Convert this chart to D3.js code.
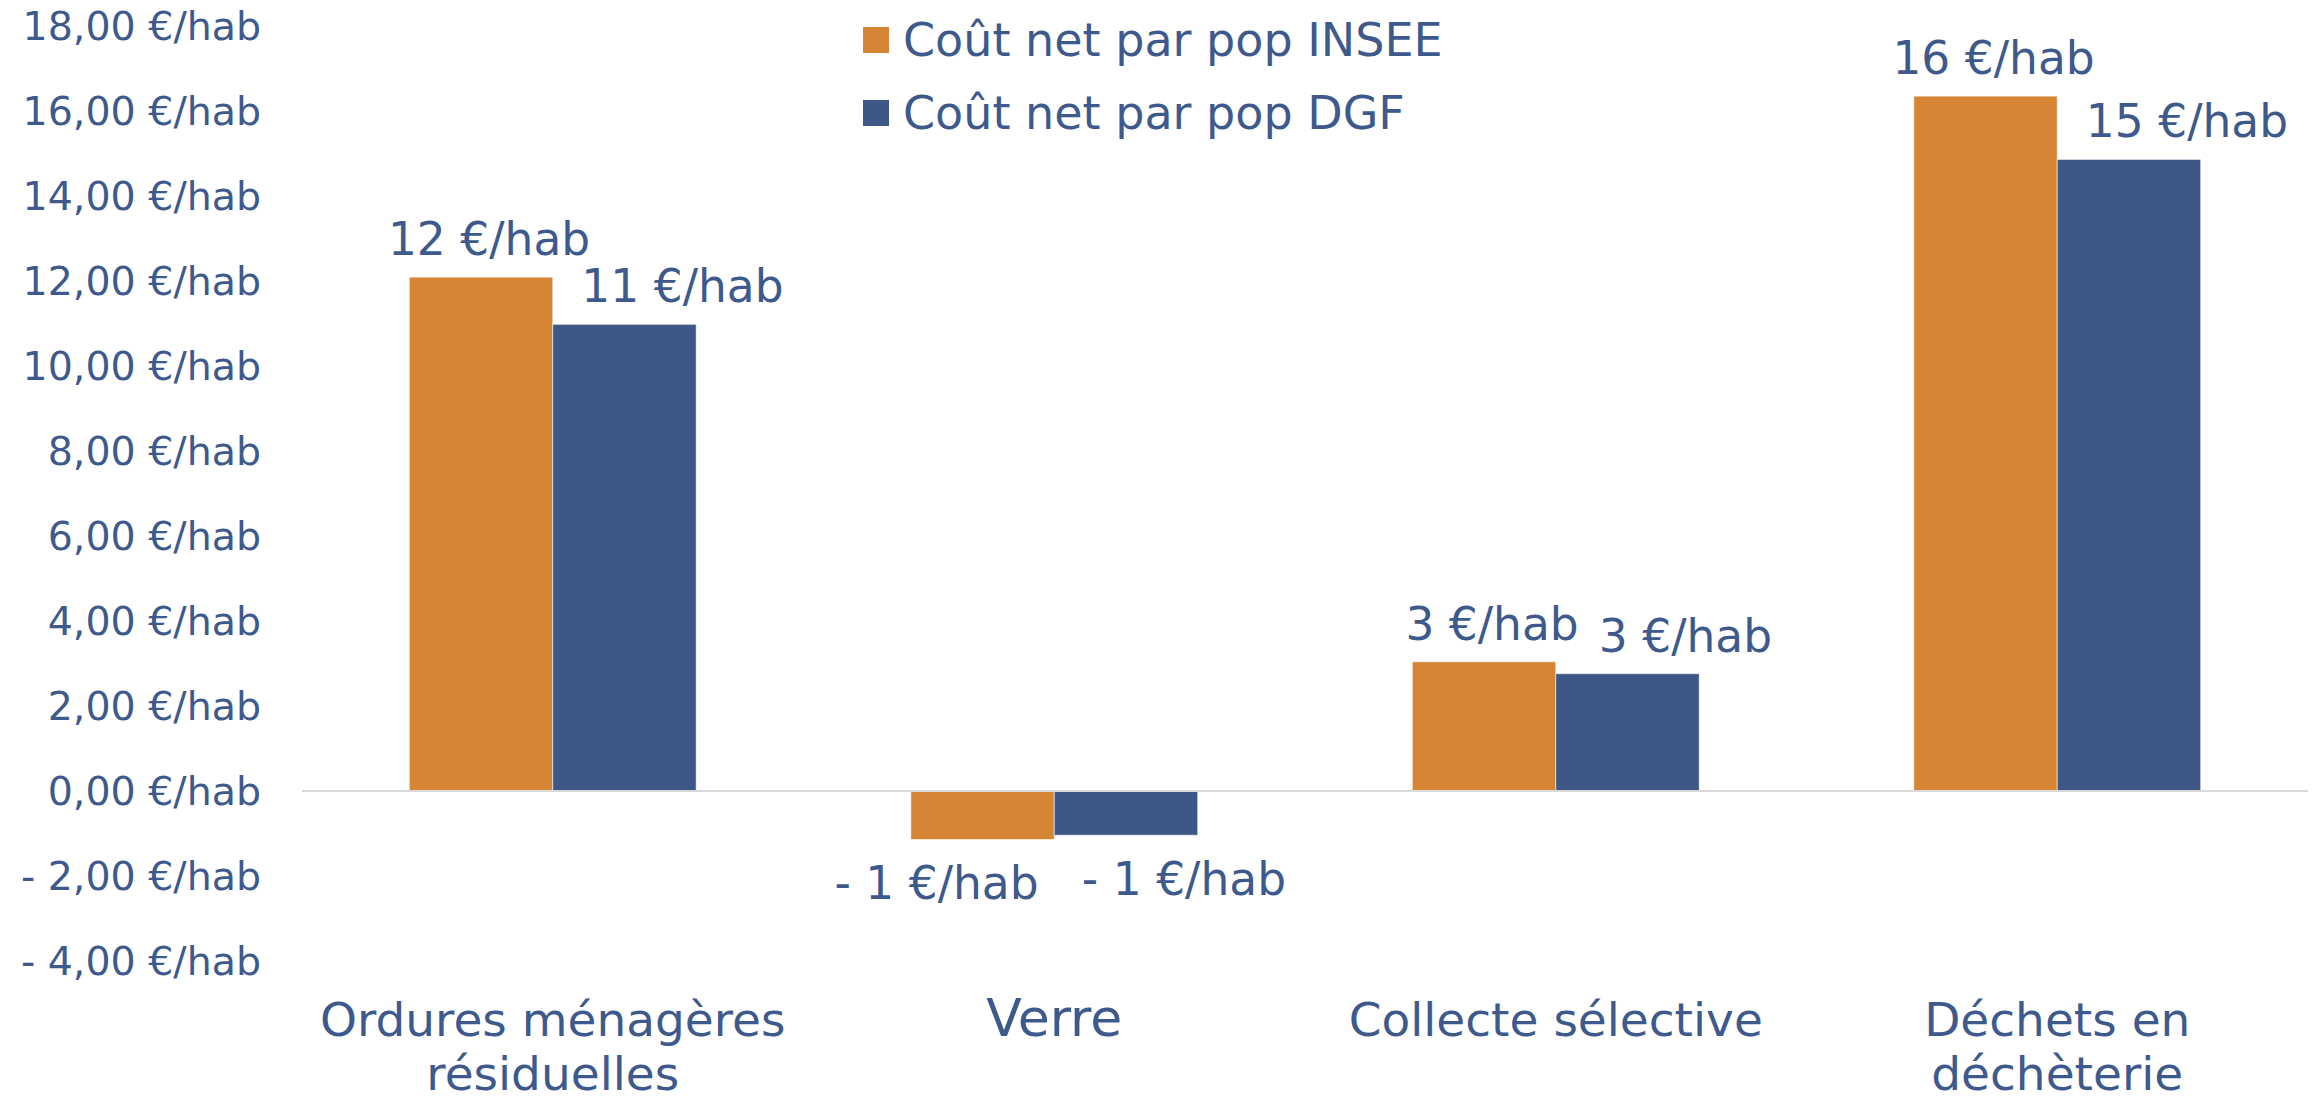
<!DOCTYPE html>
<html lang="fr">
<head>
<meta charset="utf-8">
<script src="https://cdn.jsdelivr.net/npm/d3@7"></script>
<style>
  html, body { margin: 0; padding: 0; background: #ffffff; }
  svg { display: block; }
  text { font-family: "DejaVu Sans", "Noto Sans", sans-serif; fill: #3E5A8C; }
</style>
</head>
<body>
<svg id="chart" width="2315" height="1102"></svg>
<script>
// Coût net de gestion des déchets par habitant, par flux
const categories = ["Ordures ménagères\nrésiduelles", "Verre", "Collecte sélective", "Déchets en\ndéchèterie"];
const seriesNames = ["Coût net par pop INSEE", "Coût net par pop DGF"];
const coutInsee = [12.09, -1.14, 3.04, 16.35];
const coutDgf = [10.98, -1.04, 2.76, 14.86];
const yTicks = [-4, -2, 0, 2, 4, 6, 8, 10, 12, 14, 16, 18];
const seriesColors = ["#D58534", "#3D5887"];

const series = [coutInsee, coutDgf];

const svg = d3.select("#chart");
const plot = { left: 302, right: 2308, top: 26, bottom: 961 };

const x = d3.scaleBand()
  .domain(categories)
  .range([plot.left, plot.right])
  .paddingInner(0.428)
  .paddingOuter(0.214);

const xSub = d3.scaleBand()
  .domain(d3.range(series.length))
  .range([0, x.bandwidth()])
  .padding(0);

const y = d3.scaleLinear()
  .domain([d3.min(yTicks), d3.max(yTicks)])
  .range([plot.bottom, plot.top]);

// Valeurs au format français : "12,00 €/hab", "- 2,00 €/hab"
const fmtTick = v => {
  const s = Math.abs(v).toFixed(2).replace(".", ",") + " €/hab";
  return v < 0 ? "- " + s : s;
};
const fmtLabel = v => {
  const r = Math.round(v);
  return r < 0 ? "- " + Math.abs(r) + " €/hab" : r + " €/hab";
};

// Axe des ordonnées (libellés seulement)
const yAxis = d3.axisLeft(y).tickValues(yTicks).tickFormat(fmtTick).tickSize(0).tickPadding(0);
const yAxisG = svg.append("g")
  .attr("transform", "translate(261,0)")
  .call(yAxis);
yAxisG.select(".domain").remove();
yAxisG.selectAll("text")
  .attr("x", 0)
  .attr("dy", "0.35em")
  .style("font-size", "39.5px")
  .style("font-family", "DejaVu Sans, sans-serif")
  .attr("fill", "#3E5A8C");

// Barres
const groups = svg.append("g").selectAll("g")
  .data(categories)
  .join("g")
  .attr("transform", c => `translate(${x(c)},0)`);

groups.selectAll("rect")
  .data((c, ci) => series.map((s, si) => ({ si, v: s[ci] })))
  .join("rect")
  .attr("x", d => xSub(d.si))
  .attr("width", xSub.bandwidth())
  .attr("y", d => y(Math.max(0, d.v)))
  .attr("height", d => Math.abs(y(d.v) - y(0)))
  .attr("fill", d => seriesColors[d.si])
  .attr("stroke", "#ffffff")
  .attr("stroke-opacity", 0.55)
  .attr("stroke-width", 1);

// Ligne du zéro
svg.append("line")
  .attr("x1", plot.left).attr("x2", plot.right)
  .attr("y1", y(0)).attr("y2", y(0))
  .attr("stroke", "#D9D9D9")
  .attr("stroke-width", 2.2);

// Étiquettes de données, décalées pour ne pas se chevaucher
const labelShift = (si, v) => si === 0 ? (v >= 0 ? 8 : -46) : 58;
groups.selectAll("text.val")
  .data((c, ci) => series.map((s, si) => ({ si, v: s[ci] })))
  .join("text")
  .attr("class", "val")
  .attr("text-anchor", "middle")
  .attr("x", d => xSub(d.si) + xSub.bandwidth() / 2 + labelShift(d.si, d.v))
  .attr("y", d => d.v >= 0 ? y(d.v) - 22 : y(d.v) + 60)
  .style("font-size", "45.5px")
  .text(d => fmtLabel(d.v));

// Libellés des catégories
const catLabels = svg.append("g").selectAll("text")
  .data(categories)
  .join("text")
  .attr("text-anchor", "middle")
  .attr("x", c => x(c) + x.bandwidth() / 2)
  .attr("y", 1036)
  .style("font-size", c => c.length > 6 ? "47px" : "52px");
catLabels.selectAll("tspan")
  .data(c => c.split("\n"))
  .join("tspan")
  .attr("x", function () { return d3.select(this.parentNode).attr("x"); })
  .attr("dy", (d, i) => i === 0 ? 0 : 54)
  .text(d => d);

// Légende
const legend = svg.append("g").attr("transform", "translate(863,27)");
const items = legend.selectAll("g")
  .data(seriesNames)
  .join("g")
  .attr("transform", (d, i) => `translate(0,${i * 73})`);
items.append("rect")
  .attr("width", 26).attr("height", 26)
  .attr("fill", (d, i) => seriesColors[i]);
items.append("text")
  .attr("x", 40).attr("y", 13)
  .attr("dy", "0.35em")
  .style("font-size", "46px")
  .text(d => d);
</script>
</body>
</html>
